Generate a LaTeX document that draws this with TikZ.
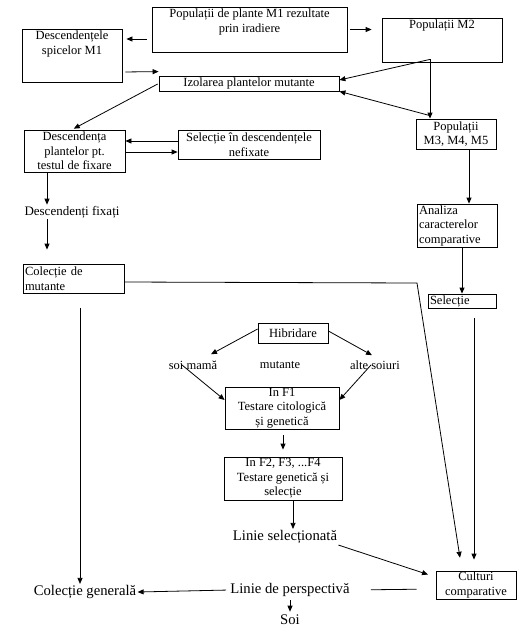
\documentclass[tikz,border=0pt]{standalone}
\usepackage{fontspec}
\setmainfont{Liberation Serif}
\usetikzlibrary{arrows.meta}
\newcommand{\boxfont}{\fontsize{12.5}{14.5}\selectfont}
\newcommand{\bigfont}{\fontsize{14.7}{17}\selectfont}

\begin{document}
\begin{tikzpicture}[x=1pt, y=-1pt, line width=0.8pt, >={Triangle[length=6pt,width=5pt]},
        box/.style={draw, inner xsep=2pt, inner ysep=0.5pt, align=center, font=\boxfont},
        lbl/.style={inner sep=1pt, align=center, font=\boxfont},
        biglbl/.style={inner sep=1pt, font=\bigfont}]
        \useasboundingbox (0,0) rectangle (519,641);

        % the boxes with the text at the top
        \node[box, minimum width=195pt, minimum height=45pt] (irad) at (249.5,29.5) {};
        \node[lbl, anchor=north] (iradtxt) at ([yshift=-1pt]irad.north) {Populații de plante M1 rezultate\\prin iradiere};
        \node[box, minimum width=100pt, minimum height=53pt] (desc) at (72,55.5) {};
        \node[lbl, anchor=north] (desctxt) at ([yshift=-1pt]desc.north) {Descendențele\\spicelor M1};
        \node[box, minimum width=120pt, minimum height=44pt] (m2) at (442,40) {};
        \node[lbl, anchor=north] (m2txt) at ([yshift=-1pt]m2.north) {Populații M2};

        % the other boxes
        \node[box, minimum width=180pt, minimum height=15pt] (izol) at (249,83.5) {Izolarea plantelor mutante};
        \node[box, minimum width=101pt, minimum height=42pt] (fix) at (74.5,151) {Descendența\\plantelor pt.\\testul de fixare};
        \node[box, minimum width=142pt, minimum height=29pt] (nefix) at (249,144.5) {Selecție în descendențele\\nefixate};
        \node[box, minimum width=80pt, minimum height=30pt] (m3) at (456,134) {Populații\\M3, M4, M5};
        \node[box, align=left, text width=76pt, minimum height=43pt] (anal) at (457,225.5) {Analiza\\caracterelor\\comparative};
        \node[box, align=left, text width=64pt, minimum height=14pt] (sel) at (462,301) {Selecție};
        \node[box, align=left, text width=97pt, minimum height=29pt] (colm) at (73.5,278.5) {Colecție de\\mutante};
        \node[box, minimum width=70pt, minimum height=20pt] (hib) at (293,333) {Hibridare};
        \node[box, minimum width=114pt, minimum height=42pt] (f1) at (282,408) {In F1\\Testare citologică\\și genetică};
        \node[box, minimum width=118pt, minimum height=43pt] (f2) at (283,478.5) {In F2, F3, ...F4\\Testare genetică și\\selecție};
        \node[box, minimum width=80pt, minimum height=28pt] (cult) at (476,585) {Culturi\\comparative};

        % the free texts
        \node[lbl] (mama) at (193,365) {soi mamă};
        \node[lbl] (mut) at (280,365) {mutante};
        \node[lbl] (alte) at (375,365) {alte soiuri};
        \node[lbl, font=\fontsize{13}{15}\selectfont] (fixati) at (72,212) {Descendenți fixați};
        \node[biglbl] (linsel) at (285,537) {Linie selecționată};
        \node[biglbl] (persp) at (290,590) {Linie de perspectivă};
        \node[biglbl] (colgen) at (85,592) {Colecție generală};
        \node[biglbl] (soi) at (290,620) {Soi};

        % points where the lines leave or bend
        \coordinate (m2out) at ([xshift=-12pt,yshift=3pt]m2.south);
        \coordinate (bend) at (417,283);

        % draw the arrows
        \draw[->, shorten <=5pt, shorten >=4pt] ([yshift=-9.5pt]irad.west) -- ([yshift=16.5pt]desc.east);
        \draw[->, shorten <=3pt] ([yshift=-16.5pt]desc.east) -- ([yshift=4pt]izol.north west);
        \draw[->, shorten <=3pt, shorten >=10pt] (irad.east) -- ([yshift=10.5pt]m2.west);
        \draw[->] (m2out) -- ([yshift=3.5pt]izol.east);
        \draw[->] (m2out) -- (m2out |- m3.north);
        \draw[->] ([xshift=-26pt,yshift=3pt]m3.north) -- (izol.south east);
        \draw[->, shorten <=1pt, shorten >=2pt] (izol.west) -- ([xshift=-2.5pt]fix.north);
        \draw[->] ([yshift=3.5pt]nefix.west) -- ([yshift=10pt]fix.east);
        \draw[->] ([yshift=-1pt]fix.east) -- ([yshift=-7.5pt]nefix.west);
        \draw[->] ([xshift=-27.5pt]fix.south) -- ([xshift=-25pt]fixati.north);
        \draw[->, shorten >=14pt] ([xshift=-25pt]fixati.south) -- ([xshift=-26.5pt]colm.north);
        \draw[->, shorten <=15pt] ([xshift=6.5pt]colm.south) -- ([xshift=-5pt]colgen.north);
        \draw[->, shorten >=13pt] ([yshift=-3.5pt]colm.east) -- (bend) -- ([xshift=-14pt]cult.north);
        \draw[->] ([xshift=13pt]m3.south) -- ([xshift=13pt]m3.south |- anal.north);
        \draw[->] ([xshift=5pt]anal.south) -- ([xshift=5pt]anal.south |- sel.north);
        \draw[->, shorten <=10pt, shorten >=11pt] ([xshift=12pt]sel.south) -- ([xshift=12pt]sel.south |- cult.north);

        \draw[->] ([yshift=4pt]hib.west) -- ([xshift=18pt,yshift=5pt]mama.north);
        \draw[->] ([yshift=2pt]hib.east) -- ([xshift=-3pt,yshift=4pt]alte.north);
        \draw[->] ([xshift=-11pt]mama.center) -- ([yshift=8pt]f1.west);
        \draw[->] ([xshift=-4pt]alte.center) -- ([yshift=8pt]f1.east);
        \draw[->, shorten <=6pt, shorten >=7pt] ([xshift=1pt]f1.south) -- (f2.north);
        \draw[->] ([xshift=10pt]f2.south) -- ([xshift=8pt]linsel.north);
        \draw[->, shorten >=8pt] (linsel.south east) -- ([yshift=8pt]cult.west);
        \draw[shorten <=19pt, shorten >=20pt] ([yshift=-4pt]cult.west) -- (persp.east);
        \draw[->, shorten <=3pt] (persp.west) -- (colgen.east);
        \draw[->, shorten <=2pt, shorten >=2pt] (persp.south) -- (soi.north);

    \end{tikzpicture}
\end{document}
